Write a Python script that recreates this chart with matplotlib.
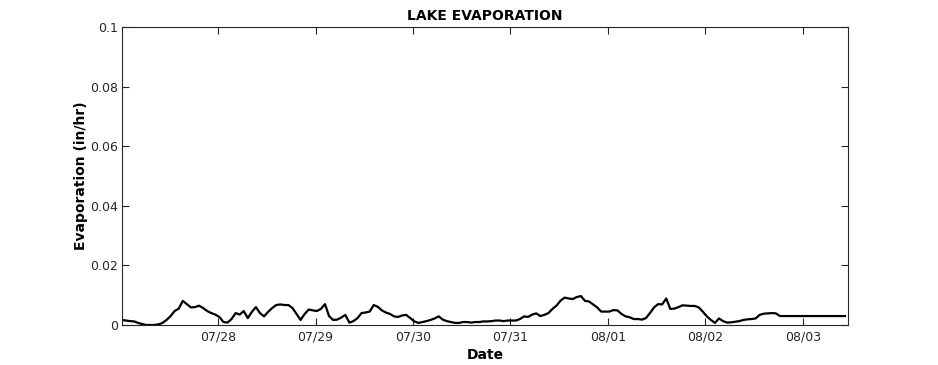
import matplotlib
matplotlib.use("Agg")
import matplotlib.pyplot as plt
import matplotlib.dates as mdates
import pandas as pd
import numpy as np

title = "LAKE EVAPORATION"
xlabel = "Date"
ylabel = "Evaporation (in/hr)"
start_time = "2023-07-27 00:20"
x_min = "2023-07-27 00:22"
x_max = "2023-08-03 11:05"
tick_days = ["2023-07-28", "2023-07-29", "2023-07-30", "2023-07-31",
             "2023-08-01", "2023-08-02", "2023-08-03"]
tick_labels = ["07/28", "07/29", "07/30", "07/31", "08/01", "08/02", "08/03"]
yticks = [0, 0.02, 0.04, 0.06, 0.08, 0.1]
ytick_labels = ["0", "0.02", "0.04", "0.06", "0.08", "0.1"]

evap = [
    0.0017, 0.0015, 0.0013, 0.0012, 0.0007, 0.0003, 0.0000, 0.0000, 0.0000, 0.0002,
    0.0007, 0.0017, 0.0030, 0.0047, 0.0055, 0.0081, 0.0070, 0.0059, 0.0060, 0.0065,
    0.0057, 0.0047, 0.0040, 0.0035, 0.0027, 0.0010, 0.0008, 0.0020, 0.0040, 0.0035,
    0.0047, 0.0023, 0.0044, 0.0060, 0.0040, 0.0029, 0.0044, 0.0057, 0.0067, 0.0069,
    0.0067, 0.0067, 0.0057, 0.0037, 0.0017, 0.0037, 0.0052, 0.0049, 0.0047, 0.0054,
    0.0070, 0.0030, 0.0017, 0.0018, 0.0025, 0.0034, 0.0008, 0.0013, 0.0023, 0.0040,
    0.0042, 0.0045, 0.0067, 0.0061, 0.0049, 0.0042, 0.0037, 0.0029, 0.0027, 0.0032,
    0.0034, 0.0023, 0.0012, 0.0007, 0.0010, 0.0013, 0.0017, 0.0022, 0.0029, 0.0018,
    0.0013, 0.0010, 0.0007, 0.0007, 0.0010, 0.0010, 0.0008, 0.0010, 0.0010, 0.0012,
    0.0012, 0.0013, 0.0015, 0.0015, 0.0013, 0.0015, 0.0015, 0.0015, 0.0020, 0.0029,
    0.0027, 0.0035, 0.0039, 0.0030, 0.0034, 0.0040, 0.0054, 0.0065, 0.0082, 0.0092,
    0.0089, 0.0087, 0.0094, 0.0097, 0.0081, 0.0079, 0.0069, 0.0059, 0.0045, 0.0045,
    0.0045, 0.0050, 0.0049, 0.0037, 0.0029, 0.0026, 0.0020, 0.0020, 0.0018, 0.0023,
    0.0040, 0.0059, 0.0070, 0.0069, 0.0089, 0.0054, 0.0055, 0.0060, 0.0066, 0.0065,
    0.0064, 0.0064, 0.0059, 0.0045, 0.0029, 0.0017, 0.0007, 0.0022, 0.0013, 0.0008,
    0.0009, 0.0011, 0.0013, 0.0017, 0.0019, 0.0020, 0.0022, 0.0034, 0.0038, 0.0039,
    0.0040, 0.0039, 0.0030, 0.0030, 0.0030, 0.0030, 0.0030, 0.0030, 0.0030, 0.0030,
    0.0030, 0.0030, 0.0030, 0.0030, 0.0030, 0.0030, 0.0030, 0.0030, 0.0030,
]

times = pd.date_range(start=start_time, periods=len(evap), freq="h")

W, H = 938, 365
fig = plt.figure(figsize=(W / 100, H / 100), dpi=100)
ax = fig.add_axes([122 / W, (H - 325) / H, (848 - 122) / W, (325 - 27) / H])

ax.plot(times, evap, color="black", linewidth=1.6)

ax.set_xlim(pd.Timestamp(x_min), pd.Timestamp(x_max))
ax.set_ylim(0, 0.1)
ax.set_xticks([pd.Timestamp(d) for d in tick_days])
ax.set_xticklabels(tick_labels)
ax.set_yticks(yticks)
ax.set_yticklabels(ytick_labels)

ax.tick_params(direction="in", length=5, width=0.8, top=True, right=True,
               labelsize=9, colors="#262626", pad=3)
ax.tick_params(axis="x", pad=4)
for s in ax.spines.values():
    s.set_linewidth(0.8)
    s.set_color("#262626")

ax.set_title(title, fontsize=10, fontweight="bold", pad=5)
ax.set_xlabel(xlabel, fontsize=10, fontweight="bold", labelpad=3.5)
ax.set_ylabel(ylabel, fontsize=10, fontweight="bold", labelpad=1.5)

fig.savefig("out.png", dpi=100)
